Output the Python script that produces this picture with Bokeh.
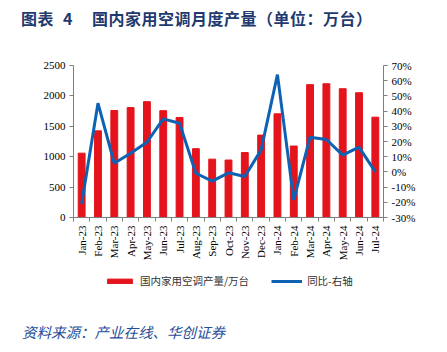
import math
from bokeh.plotting import figure
from bokeh.layouts import column
from bokeh.models import (Range1d, LinearAxis, FixedTicker, NumeralTickFormatter,
                          Legend, LegendItem, ColumnDataSource, Div)
from bokeh.embed import file_html
from bokeh.resources import INLINE

months = ["Jan-23", "Feb-23", "Mar-23", "Apr-23", "May-23", "Jun-23", "Jul-23", "Aug-23",
          "Sep-23", "Oct-23", "Nov-23", "Dec-23", "Jan-24", "Feb-24", "Mar-24", "Apr-24",
          "May-24", "Jun-24", "Jul-24"]
production = [1058, 1425, 1760, 1808, 1905, 1757, 1645, 1132, 960, 945, 1068, 1355,
              1705, 1175, 2185, 2200, 2118, 2052, 1650]
yoy = [-0.21, 0.452, 0.057, 0.123, 0.195, 0.349, 0.32, -0.009, -0.061, -0.006, -0.03,
       0.145, 0.64, -0.184, 0.228, 0.213, 0.11, 0.163, 0.0]

title_head = "图表"
title_num = "4"
title_body = "国内家用空调月度产量（单位：万台）"
source_text = "资料来源：产业在线、华创证券"
bar_name = "国内家用空调产量/万台"
line_name = "同比-右轴"

W = 447
FL, FR = 73, 383          # frame left / right in canvas pixels
HEAD_H, RULE_H, MAIN_H, LEG_H, FOOT_H = 34, 2, 234, 43, 37
RED = "#E5131B"
BLUE = "#0E62B3"
NAVY = "#1F3A6E"
RULE = "#2F5C9C"
CJK = "'Noto Sans CJK SC'"


def rule_fig():
    r = figure(width=414, height=RULE_H, output_backend="svg", toolbar_location=None,
               title=None, x_axis_location=None, y_axis_location=None, min_border=0,
               background_fill_color=RULE, border_fill_color=RULE, margin=(0, 0, 0, 20))
    r.outline_line_color = None
    r.xgrid.grid_line_color = None
    r.ygrid.grid_line_color = None
    return r


# ---- header (title) ----
header = Div(width=W, height=HEAD_H, styles={"margin": "0", "padding": "0"}, text=(
    f'<div style="position:relative;width:{W}px;height:{HEAD_H}px;">'
    f'<div style="position:absolute;left:21px;top:10px;line-height:16px;font-family:{CJK};'
    f'font-weight:bold;font-size:16px;letter-spacing:0.5px;color:{NAVY};white-space:nowrap;">'
    f'{title_head}<span style="margin-left:9px">{title_num}</span>'
    f'<span style="margin-left:19px">{title_body}</span></div></div>'))

# ---- main chart ----
idx = list(range(len(months)))
src = ColumnDataSource(dict(x=idx, prod=production, yoy=yoy))

top_y = HEAD_H + RULE_H
p = figure(width=W, height=MAIN_H, output_backend="svg", toolbar_location=None,
           x_range=Range1d(-0.5, len(months) - 0.5), y_range=Range1d(0, 2500),
           min_border_left=FL, min_border_right=W - FR, min_border_top=65 - top_y,
           min_border_bottom=top_y + MAIN_H - 217)
p.outline_line_color = None
p.xgrid.grid_line_color = None
p.ygrid.grid_line_color = None
p.extra_y_ranges = {"pct": Range1d(-0.3, 0.7)}

p.vbar(x="x", top="prod", width=0.42, color=RED, source=src)
p.line(x="x", y="yoy", line_width=3, color=BLUE, y_range_name="pct", source=src)

AXIS_COLOR = "#7f7f7f"
LABEL_FONT = "Liberation Serif"

xa = p.xaxis[0]
xa.ticker = FixedTicker(ticks=idx, minor_ticks=[i - 0.5 for i in idx] + [len(idx) - 0.5])
xa.major_label_overrides = {i: m for i, m in enumerate(months)}
xa.major_label_orientation = math.pi / 2
xa.major_tick_out = 0
xa.major_tick_in = 0
xa.minor_tick_out = 4
xa.minor_tick_in = 0
xa.minor_tick_line_color = AXIS_COLOR
xa.axis_line_color = AXIS_COLOR
xa.major_label_text_font = LABEL_FONT
xa.major_label_text_font_size = "11px"
xa.major_label_text_color = "#000000"
xa.major_label_standoff = 4

ya = p.yaxis[0]
ya.ticker = FixedTicker(ticks=[0, 500, 1000, 1500, 2000, 2500])
ya.major_tick_out = 4
ya.major_tick_in = 0
ya.minor_tick_line_color = None
ya.axis_line_color = AXIS_COLOR
ya.major_tick_line_color = AXIS_COLOR
ya.major_label_text_font = LABEL_FONT
ya.major_label_text_font_size = "11px"
ya.major_label_text_color = "#000000"
ya.major_label_standoff = 4

ra = LinearAxis(y_range_name="pct")
ra.ticker = FixedTicker(ticks=[-0.3 + 0.1 * i for i in range(11)])
ra.formatter = NumeralTickFormatter(format="0%")
ra.major_tick_out = 4
ra.major_tick_in = 0
ra.minor_tick_line_color = None
ra.axis_line_color = AXIS_COLOR
ra.major_tick_line_color = AXIS_COLOR
ra.major_label_text_font = LABEL_FONT
ra.major_label_text_font_size = "11px"
ra.major_label_text_color = "#000000"
ra.major_label_standoff = 4
p.add_layout(ra, "right")

# ---- legend strip ----
leg = figure(width=W, height=LEG_H, output_backend="svg", toolbar_location=None,
             x_range=Range1d(0, 1), y_range=Range1d(0, 1),
             x_axis_location=None, y_axis_location=None,
             min_border_left=FL, min_border_right=W - FR, min_border_top=0, min_border_bottom=0)
leg.outline_line_color = None
leg.xgrid.grid_line_color = None
leg.ygrid.grid_line_color = None
lg_bar = leg.vbar(x="x", top="prod", width=0.42, color=RED, source=src, visible=False)
lg_line = leg.line(x="x", y="yoy", line_width=3, color=BLUE, source=src, visible=False)
legend = Legend(items=[LegendItem(label=bar_name, renderers=[lg_bar]),
                       LegendItem(label=line_name, renderers=[lg_line])],
                orientation="horizontal", location=(104 - FL, LEG_H - 18),
                glyph_width=31, glyph_height=6, label_text_font="Noto Sans CJK SC",
                label_text_font_size="10.5px", label_text_color="#333333",
                spacing=22, padding=0, margin=0, label_standoff=5, label_height=12,
                background_fill_alpha=0, border_line_color=None,
                inactive_fill_alpha=0, click_policy="none")
leg.add_layout(legend, "center")

# ---- footer (source) ----
footer = Div(width=W, height=FOOT_H, styles={"margin": "0", "padding": "0"}, text=(
    f'<div style="position:relative;width:{W}px;height:{FOOT_H}px;">'
    f'<div style="position:absolute;left:22px;top:8.5px;line-height:15px;font-family:{CJK};'
    f'font-style:italic;font-size:14.5px;color:#1F4E9A;white-space:nowrap;">'
    f'{source_text}</div></div>'))

layout = column(header, rule_fig(), p, leg, rule_fig(), footer, spacing=0)
open("out.html", "w").write(file_html(layout, INLINE))
